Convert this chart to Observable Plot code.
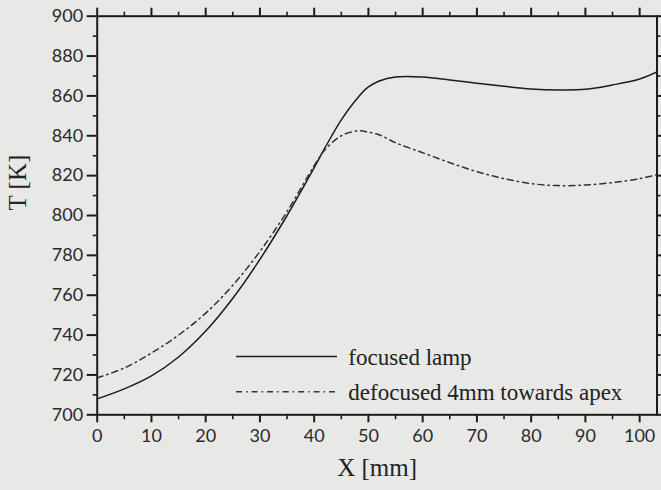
<!DOCTYPE html>
<html>
<head>
<meta charset="utf-8">
<script src="https://cdn.jsdelivr.net/npm/d3@7"></script>
<script src="https://cdn.jsdelivr.net/npm/@observablehq/plot@0.6"></script>
<style>
  html, body { margin: 0; padding: 0; background: #e8e8e6; }
  #chart { width: 661px; height: 490px; }
</style>
</head>
<body>
<div id="chart"></div>
<script>
// ---- data ----
const xPos = [0, 5, 10, 15, 20, 25, 30, 35, 40, 42, 45, 48, 50, 52, 55, 60, 65, 70, 75, 80, 85, 90, 95, 100, 103.2];
const focused = [708, 713, 719.5, 729, 742, 758.5, 778, 800, 824, 834, 848, 859, 864.5, 867.5, 869.5, 869.5, 868, 866.3, 864.8, 863.5, 863, 863.3, 865.5, 868.5, 872];
const defocused = [718.5, 723.5, 731, 740, 751, 765, 782, 802, 825, 833, 840, 842.5, 841.8, 840.5, 836.5, 831.5, 826.5, 822, 818.5, 816, 815, 815.3, 816.5, 818.5, 820.5];
const seriesNames = ["focused lamp", "defocused 4mm towards apex"];

const xMajor = [0, 10, 20, 30, 40, 50, 60, 70, 80, 90, 100];
const xMinor = [5, 15, 25, 35, 45, 55, 65, 75, 85, 95];
const yMajor = [700, 720, 740, 760, 780, 800, 820, 840, 860, 880, 900];
const yMinor = [710, 730, 750, 770, 790, 810, 830, 850, 870, 890];

// ---- build table ----
const rows = [];
xPos.forEach((x, i) => {
  rows.push({x, T: focused[i], s: seriesNames[0]});
  rows.push({x, T: defocused[i], s: seriesNames[1]});
});

// ---- styling / layout ----
const W = 661, H = 490;
const mL = 96.7, mR = 4.5, mT = 15.7, mB = 75.7;
const xDom = [0, 103.2], yDom = [700, 900];
const fw = W - mL - mR, fh = H - mT - mB;
const pxX = (xDom[1] - xDom[0]) / fw;   // data units per pixel
const pxY = (yDom[1] - yDom[0]) / fh;
const ink = "#1c1c1c";
const dash = "6,4,1.5,4";
const sansFont = "Lato, 'Open Sans', sans-serif";
const serifFont = "'Liberation Serif', 'DejaVu Serif', serif";
// legend placement in data space
const legX1 = 25.7, legX2 = 44.3, legTextX = 46.3;
const legY = [729.2, 711.6];

// outward tick marks on all four sides, drawn through the scales
const ticksBottom = (vals, len, sw) => Plot.ruleX(vals, {x: d => d, y1: yDom[0], y2: yDom[0] - len * pxY, stroke: ink, strokeWidth: sw});
const ticksTop = (vals, len, sw) => Plot.ruleX(vals, {x: d => d, y1: yDom[1], y2: yDom[1] + len * pxY, stroke: ink, strokeWidth: sw});
const ticksLeft = (vals, len, sw) => Plot.ruleY(vals, {y: d => d, x1: xDom[0], x2: xDom[0] - len * pxX, stroke: ink, strokeWidth: sw});
const ticksRight = (vals, len, sw) => Plot.ruleY(vals, {y: d => d, x1: xDom[1], x2: xDom[1] + len * pxX, stroke: ink, strokeWidth: sw});

const chart = Plot.plot({
  width: W,
  height: H,
  marginLeft: mL,
  marginRight: mR,
  marginTop: mT,
  marginBottom: mB,
  style: {background: "#e8e8e6", color: ink, fontFamily: sansFont},
  x: {domain: xDom, label: null},
  y: {domain: yDom, label: null},
  marks: [
    // tick labels (tick lines drawn separately below)
    Plot.axisX({anchor: "bottom", ticks: xMajor, tickSize: 0, tickPadding: 14, fontSize: 18, fontFamily: sansFont, fill: "#2a2a2a", label: null}),
    Plot.axisY({anchor: "left", ticks: yMajor, tickSize: 0, tickPadding: 14, fontSize: 18, fontFamily: sansFont, fill: "#2a2a2a", label: null}),
    // tick marks
    ticksBottom(xMajor, 8, 2), ticksBottom(xMinor, 5, 1.6),
    ticksTop(xMajor, 8, 2), ticksTop(xMinor, 4, 1.6),
    ticksLeft(yMajor, 10, 2), ticksLeft(yMinor, 4, 1.6),
    ticksRight(yMajor, 8, 2), ticksRight(yMinor, 4, 1.6),
    Plot.frame({stroke: ink, strokeWidth: 2}),
    // curves
    Plot.line(rows.filter(d => d.s === seriesNames[0]), {x: "x", y: "T", stroke: ink, strokeWidth: 1.5, curve: "catmull-rom", clip: true}),
    Plot.line(rows.filter(d => d.s === seriesNames[1]), {x: "x", y: "T", stroke: "#333", strokeWidth: 1.5, strokeDasharray: dash, curve: "catmull-rom", clip: true}),
    // legend
    Plot.ruleY([legY[0]], {y: d => d, x1: legX1, x2: legX2, stroke: ink, strokeWidth: 1.5}),
    Plot.ruleY([legY[1]], {y: d => d, x1: legX1, x2: legX2, stroke: "#333", strokeWidth: 1.5, strokeDasharray: dash}),
    Plot.text(seriesNames, {x: legTextX, y: (d, i) => legY[i], text: d => d, textAnchor: "start", lineAnchor: "middle", dy: 1, fontSize: 23, fontFamily: serifFont, fill: "#222"}),
    // axis titles
    Plot.text(["X [mm]"], {frameAnchor: "bottom", text: d => d, dy: 61, lineAnchor: "bottom", fontSize: 25, fontFamily: serifFont, fill: "#222"}),
    Plot.text(["T [K]"], {frameAnchor: "left", text: d => d, dx: -79, dy: -5, rotate: -90, lineAnchor: "middle", fontSize: 25, fontFamily: serifFont, fill: "#222"})
  ]
});
document.getElementById("chart").appendChild(chart);
</script>
</body>
</html>
